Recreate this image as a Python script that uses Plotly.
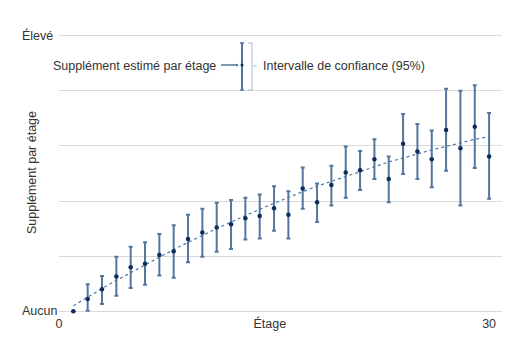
import plotly.graph_objects as go

# ---- data ----
floors = list(range(1, 31))
estimate = [0.00, 0.22, 0.40, 0.63, 0.80, 0.86, 1.02, 1.09, 1.31, 1.43,
            1.52, 1.58, 1.69, 1.73, 1.87, 1.75, 2.23, 1.98, 2.29, 2.52,
            2.56, 2.76, 2.40, 3.04, 2.90, 2.76, 3.29, 2.96, 3.35, 2.81]
ci_upper = [0.00, 0.49, 0.64, 0.99, 1.17, 1.25, 1.40, 1.56, 1.75, 1.86,
            1.97, 2.02, 2.06, 2.12, 2.27, 2.18, 2.61, 2.32, 2.64, 2.99,
            2.91, 3.12, 2.81, 3.58, 3.40, 3.28, 4.04, 4.00, 4.10, 3.60]
ci_lower = [0.00, 0.01, 0.13, 0.28, 0.42, 0.48, 0.65, 0.61, 0.89, 0.99,
            1.08, 1.13, 1.30, 1.32, 1.46, 1.32, 1.86, 1.62, 1.92, 2.06,
            2.20, 2.40, 1.98, 2.49, 2.40, 2.25, 2.55, 1.92, 2.60, 2.04]
trend = [0.10, 0.26, 0.41, 0.56, 0.70, 0.85, 0.98, 1.12, 1.25, 1.38,
         1.50, 1.62, 1.74, 1.85, 1.96, 2.07, 2.17, 2.27, 2.36, 2.45,
         2.54, 2.63, 2.71, 2.78, 2.86, 2.93, 2.99, 3.06, 3.12, 3.17]
y_tick_vals = [0, 1, 2, 3, 4, 5]
y_labels = {0: "Aucun", 5: "Élevé"}
x_tick_vals = [0, 14.7, 30]
x_tick_text = ["0", "Étage", "30"]

err_plus = [u - e for u, e in zip(ci_upper, estimate)]
err_minus = [e - l for e, l in zip(estimate, ci_lower)]

FONT = "Liberation Sans, Arial, Helvetica, sans-serif"
FS = 12.5
TXT = "#333333"
BAR = "#52769d"
DOT = "#0c2d5a"
TREND = "#4a78a8"

fig = go.Figure()
fig.add_trace(go.Scatter(
    x=floors, y=trend, mode="lines",
    line=dict(color=TREND, width=1.2, dash="dot"),
    hoverinfo="skip", showlegend=False))
fig.add_trace(go.Scatter(
    x=floors, y=estimate, mode="markers",
    marker=dict(color=DOT, size=4.5),
    error_y=dict(type="data", symmetric=False, array=err_plus,
                 arrayminus=err_minus, color=BAR, thickness=2, width=2),
    showlegend=False, cliponaxis=False))

OFF = 8  # page body margin offset
W, H = 514, 362
L, R, T, B = 51, 20, 25, 56
pw, ph = W - L - R, H - T - B

def px(x):
    return (x - OFF - L) / pw

def py(y):
    return (T + ph - (y - OFF)) / ph

annotations = []
for v, t in y_labels.items():
    annotations.append(dict(xref="paper", yref="y", x=px(20), y=v, text=t,
                            showarrow=False, xanchor="left", yanchor="middle",
                            font=dict(size=FS, color=TXT, family=FONT)))
annotations.append(dict(xref="paper", yref="paper", x=px(32), y=py(173),
                        text="Supplément par étage", textangle=-90,
                        showarrow=False, xanchor="center", yanchor="middle",
                        font=dict(size=FS, color=TXT, family=FONT)))
annotations.append(dict(xref="paper", yref="paper", x=px(218), y=py(66),
                        text="Supplément estimé par étage", showarrow=False,
                        xanchor="right", yanchor="middle",
                        font=dict(size=FS, color=TXT, family=FONT)))
annotations.append(dict(xref="paper", yref="paper", x=px(261), y=py(66),
                        text="Intervalle de confiance (95%)", showarrow=False,
                        xanchor="left", yanchor="middle",
                        font=dict(size=FS, color=TXT, family=FONT)))

def seg(x0, y0, x1, y1, color, width):
    return dict(type="line", xref="paper", yref="paper",
                x0=px(x0), y0=py(y0), x1=px(x1), y1=py(y1),
                line=dict(color=color, width=width))

LIGHT = "#a9bccf"
shapes = [
    seg(221, 65, 238, 65, BAR, 1.5),
    seg(242, 43, 242, 90, BAR, 2),
    seg(240, 43, 244, 43, BAR, 1.5),
    seg(240, 90, 244, 90, BAR, 1.5),
    seg(252, 43, 252, 90, LIGHT, 1),
    seg(248, 43, 252, 43, LIGHT, 1),
    seg(248, 90, 252, 90, LIGHT, 1),
    seg(253, 66, 257, 66, LIGHT, 1),
    dict(type="circle", xref="paper", yref="paper",
         x0=px(235.8), y0=py(63.8), x1=px(238.2), y1=py(66.2),
         line=dict(width=0), fillcolor=BAR),
    dict(type="circle", xref="paper", yref="paper",
         x0=px(240.5), y0=py(63.5), x1=px(243.5), y1=py(66.5),
         line=dict(width=0), fillcolor=DOT),
]

fig.update_layout(
    width=W, height=H,
    margin=dict(l=L, r=R, t=T, b=B, pad=0),
    plot_bgcolor="white", paper_bgcolor="white",
    font=dict(family=FONT, size=FS, color=TXT),
    annotations=annotations, shapes=shapes,
    xaxis=dict(range=[0, 30.9], tickvals=x_tick_vals, ticktext=x_tick_text,
               showgrid=False, zeroline=False, showline=False, ticks="",
               tickfont=dict(size=FS, color=TXT, family=FONT)),
    yaxis=dict(range=[-0.05, 5.05], tickvals=y_tick_vals,
               ticktext=["" for _ in y_tick_vals],
               showgrid=True, gridcolor="#d9d9d9", gridwidth=1,
               zeroline=False, showline=False, ticks=""),
)

fig.write_html("out.html")
